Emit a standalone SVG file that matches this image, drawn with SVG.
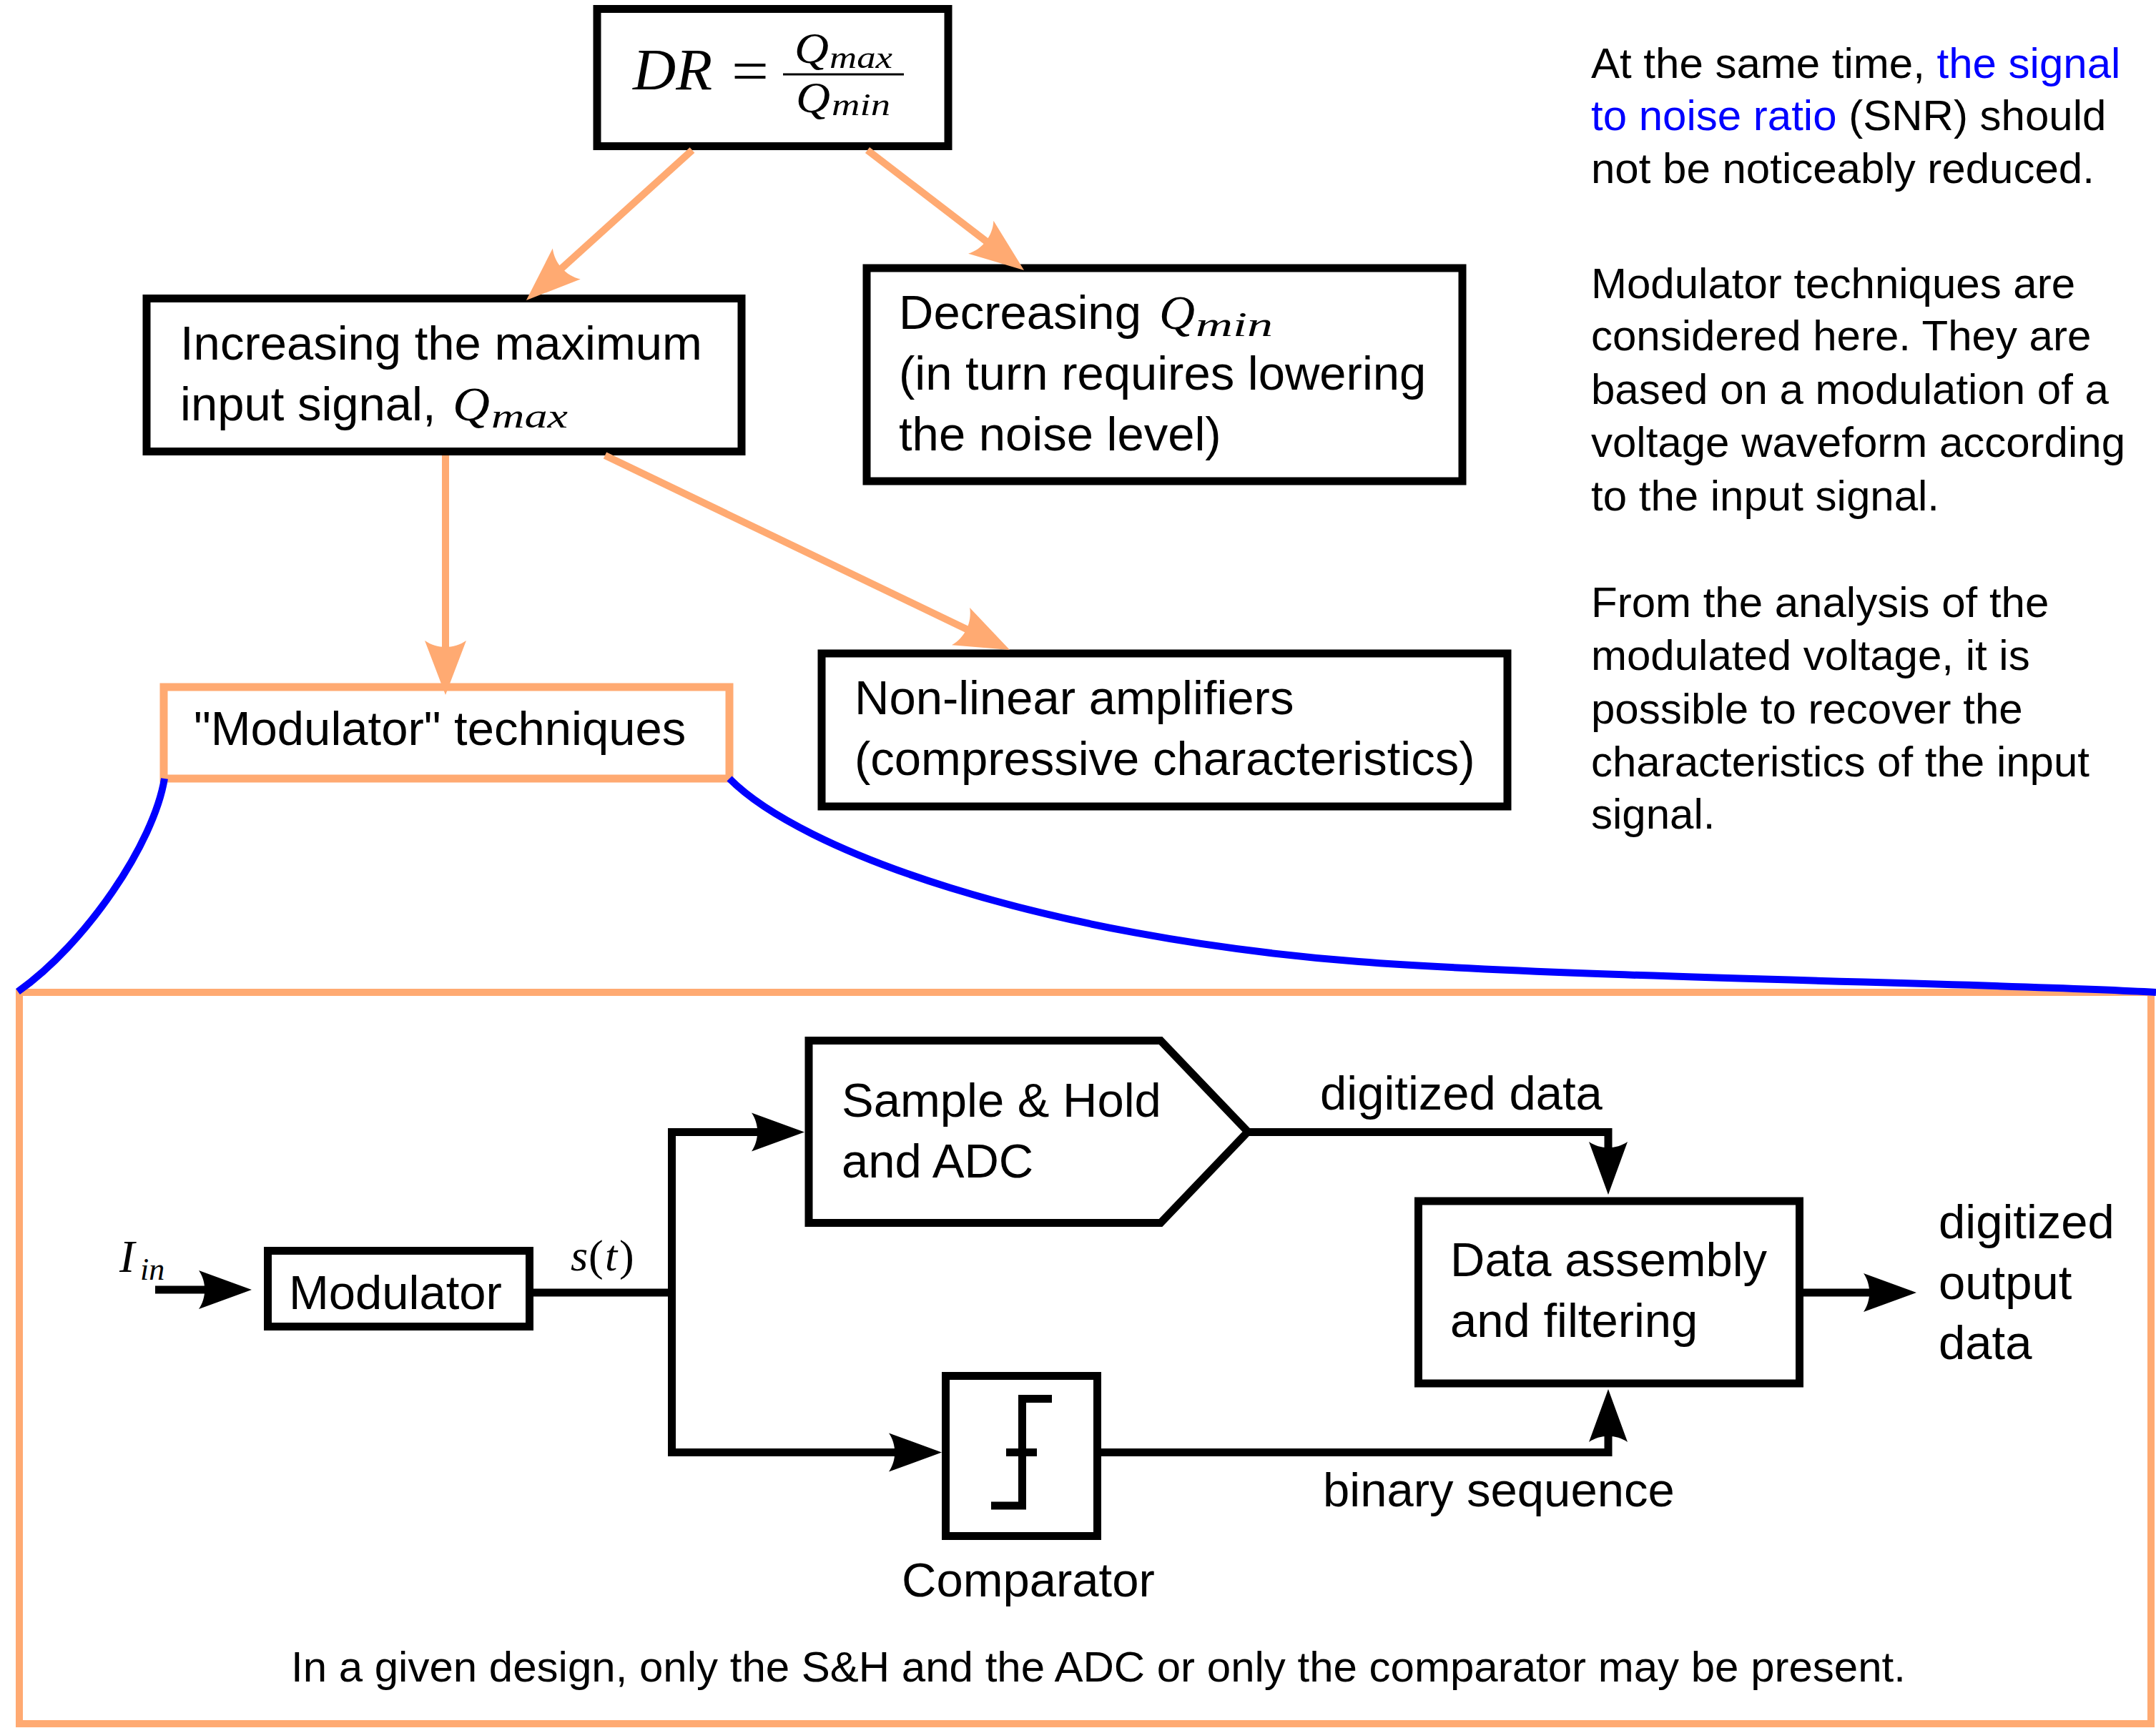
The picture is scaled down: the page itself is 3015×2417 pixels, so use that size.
<svg xmlns="http://www.w3.org/2000/svg" width="3015" height="2417" viewBox="0 0 3015 2417">
<style>
.bx{fill:#ffffff;stroke:#000000;stroke-width:11}
.ob{fill:#ffffff;stroke:#ffaa72;stroke-width:11}
.ol{fill:none;stroke:#ffaa72;stroke-width:10}
.bl{fill:none;stroke:#000000;stroke-width:11;stroke-linejoin:miter}
.blue{fill:none;stroke:#0000ff;stroke-width:10}
.t{font-family:"Liberation Sans",Arial,sans-serif;font-size:67px;fill:#000}
.n{font-family:"Liberation Sans",Arial,sans-serif;font-size:60px;fill:#000}
.m{font-family:"Liberation Serif","Times New Roman",serif;font-style:italic;fill:#000}
.r{font-family:"Liberation Serif","Times New Roman",serif;fill:#000}
.hl{fill:#0000ff}
</style>
<defs>
<marker id="aO" markerUnits="userSpaceOnUse" viewBox="-80 -32 85 64" markerWidth="85" markerHeight="64" refX="-40" refY="0" orient="auto" overflow="visible">
<path d="M0,0 L-76,-29 C-64,-12 -64,12 -76,29 Z" fill="#ffaa72"/>
</marker>
<marker id="aB" markerUnits="userSpaceOnUse" viewBox="-80 -32 85 64" markerWidth="85" markerHeight="64" refX="-40" refY="0" orient="auto" overflow="visible">
<path d="M0,0 L-74,-27 C-63,-11 -63,11 -74,27 Z" fill="#000000"/>
</marker>
</defs>
<rect width="3015" height="2417" fill="#ffffff"/>

<g id="node-dr">
<rect class="bx" x="835" y="12.5" width="491" height="192"/>
<text class="m" x="885" y="125" font-size="82" textLength="111" lengthAdjust="spacingAndGlyphs">DR</text>
<text class="r" x="1023" y="127" font-size="82" textLength="52" lengthAdjust="spacingAndGlyphs">=</text>
<line x1="1095" y1="104" x2="1264" y2="104" stroke="#000" stroke-width="3"/>
<text class="m" x="1111" y="88" font-size="62" textLength="48" lengthAdjust="spacingAndGlyphs">Q</text>
<text class="m" x="1160" y="95" font-size="44" textLength="88" lengthAdjust="spacingAndGlyphs">max</text>
<text class="m" x="1113" y="157" font-size="62" textLength="48" lengthAdjust="spacingAndGlyphs">Q</text>
<text class="m" x="1163" y="161" font-size="44" textLength="82" lengthAdjust="spacingAndGlyphs">min</text>
</g>

<g id="node-increasing">
<rect class="bx" x="205" y="417.5" width="832" height="214"/>
<text class="t" x="252" y="503">Increasing the maximum</text>
<text class="t" x="252" y="588">input signal,</text>
<text class="m" x="633" y="588" font-size="68" textLength="52" lengthAdjust="spacingAndGlyphs">Q</text>
<text class="m" x="687" y="598" font-size="48" textLength="107" lengthAdjust="spacingAndGlyphs">max</text>
</g>

<g id="node-decreasing">
<rect class="bx" x="1212" y="375" width="833" height="298"/>
<text class="t" x="1257" y="460">Decreasing</text>
<text class="m" x="1621" y="460" font-size="68" textLength="50" lengthAdjust="spacingAndGlyphs">Q</text>
<text class="m" x="1672" y="470" font-size="48" textLength="108" lengthAdjust="spacingAndGlyphs">min</text>
<text class="t" x="1257" y="545">(in turn requires lowering</text>
<text class="t" x="1257" y="630">the noise level)</text>
</g>

<g id="node-modtech">
<rect class="ob" x="229" y="961" width="791" height="128"/>
<text class="t" x="271" y="1042">"Modulator" techniques</text>
</g>

<g id="node-nonlinear">
<rect class="bx" x="1149" y="914" width="959" height="214"/>
<text class="t" x="1195" y="999">Non-linear amplifiers</text>
<text class="t" x="1195" y="1084">(compressive characteristics)</text>
</g>

<g id="notes">
<text class="n" x="2225" y="109">At the same time, <tspan class="hl">the signal</tspan></text>
<text class="n" x="2225" y="182"><tspan class="hl">to noise ratio</tspan> (SNR) should</text>
<text class="n" x="2225" y="256">not be noticeably reduced.</text>
<text class="n" x="2225" y="417">Modulator techniques are</text>
<text class="n" x="2225" y="490">considered here. They are</text>
<text class="n" x="2225" y="565">based on a modulation of a</text>
<text class="n" x="2225" y="639">voltage waveform according</text>
<text class="n" x="2225" y="714">to the input signal.</text>
<text class="n" x="2225" y="863">From the analysis of the</text>
<text class="n" x="2225" y="937">modulated voltage, it is</text>
<text class="n" x="2225" y="1012">possible to recover the</text>
<text class="n" x="2225" y="1086">characteristics of the input</text>
<text class="n" x="2225" y="1159">signal.</text>
</g>

<g id="node-detail">
<rect fill="none" stroke="#ffaa72" stroke-width="10" x="27" y="1388" width="2981" height="1023"/>
<text class="n" x="407" y="2352">In a given design, only the S&amp;H and the ADC or only the comparator may be present.</text>
</g>

<g id="node-iin">
<text class="m" x="167" y="1779" font-size="64">I</text>
<text class="m" x="196" y="1790" font-size="44">in</text>
</g>

<g id="node-modulator">
<rect class="bx" x="374.5" y="1749.5" width="366" height="106"/>
<text class="t" x="404" y="1831">Modulator</text>
</g>

<g id="node-st">
<text class="m" x="798" y="1777" font-size="62">s</text>
<text class="r" x="823" y="1777" font-size="62">(</text>
<text class="m" x="846" y="1777" font-size="62">t</text>
<text class="r" x="866" y="1777" font-size="62">)</text>
</g>

<g id="node-sh">
<path class="bx" d="M1131,1455.5 H1623 L1745,1583 L1623,1710.5 H1131 Z"/>
<text class="t" x="1177" y="1562">Sample &amp; Hold</text>
<text class="t" x="1177" y="1647">and ADC</text>
</g>

<g id="node-comparator">
<rect class="bx" x="1322.5" y="1924.5" width="212" height="224"/>
<path d="M1471,1956.5 H1429.5 V2106 H1386" fill="none" stroke="#000" stroke-width="11"/>
<line x1="1407" y1="2031.5" x2="1450" y2="2031.5" stroke="#000" stroke-width="11"/>
<text class="t" x="1261" y="2233">Comparator</text>
</g>

<g id="node-assembly">
<rect class="bx" x="1983.5" y="1680" width="533" height="255"/>
<text class="t" x="2028" y="1785">Data assembly</text>
<text class="t" x="2028" y="1870">and filtering</text>
</g>

<g id="labels">
<text class="t" x="1846" y="1552">digitized data</text>
<text class="t" x="1850" y="2107">binary sequence</text>
<text class="t" x="2711" y="1732">digitized</text>
<text class="t" x="2711" y="1817">output</text>
<text class="t" x="2711" y="1901">data</text>
</g>

<g id="connectors">
<path class="blue" d="M230,1089 C215,1180 120,1320 25,1387"/>
<path class="blue" d="M1020,1089 C1120,1190 1450,1310 1900,1345 C2200,1368 2800,1375 3015,1388"/>
<line class="ol" x1="968" y1="210" x2="765.6" y2="393.2" marker-end="url(#aO)"/>
<line class="ol" x1="1213" y1="210" x2="1400.3" y2="353.7" marker-end="url(#aO)"/>
<line class="ol" x1="623" y1="637" x2="623" y2="932" marker-end="url(#aO)"/>
<line class="ol" x1="846" y1="637" x2="1376" y2="891.7" marker-end="url(#aO)"/>
<path class="bl" d="M217,1804 H312" marker-end="url(#aB)"/>
<path class="bl" d="M746,1808 H939.5"/>
<path class="bl" d="M939.5,1808 V1583.5 H1085" marker-end="url(#aB)"/>
<path class="bl" d="M939.5,1808 V2031.5 H1277" marker-end="url(#aB)"/>
<path class="bl" d="M1744,1583.5 H2249 V1631" marker-end="url(#aB)"/>
<path class="bl" d="M1534,2031.5 H2249 V1983" marker-end="url(#aB)"/>
<path class="bl" d="M2521,1808 H2640" marker-end="url(#aB)"/>
</g>
</svg>
